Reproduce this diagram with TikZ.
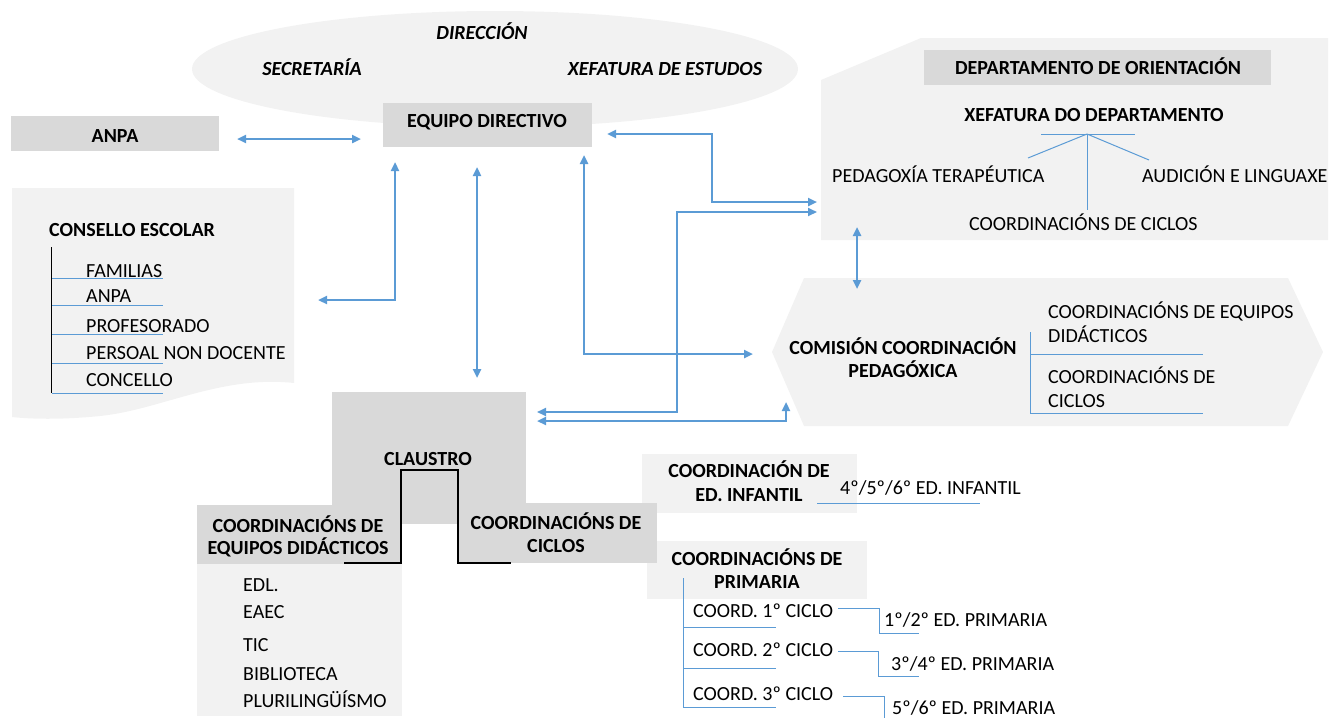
\documentclass[tikz,border=0pt]{standalone}
\usepackage{fontspec}
\setmainfont{Carlito}
\usetikzlibrary{arrows.meta,shapes.geometric}
\definecolor{panelg}{HTML}{F2F2F2}
\definecolor{boxg}{HTML}{D9D9D9}
\definecolor{ablue}{HTML}{5B9BD5}
\begin{document}
\begin{tikzpicture}[x=1pt,y=-1pt,
  txt/.style={inner sep=0pt, font=\fontsize{20}{24}\selectfont},
  btxt/.style={inner sep=0pt, font=\fontsize{20}{24}\selectfont\bfseries},
  itxt/.style={inner sep=0pt, font=\fontsize{20}{24}\selectfont\bfseries\itshape},
  darkbox/.style={fill=boxg, draw=none, inner sep=0pt, anchor=north west},
  lightbox/.style={fill=panelg, draw=none, inner sep=0pt, anchor=north west},
  conn/.style={draw=ablue, line width=2.6pt, {Triangle[length=9pt,width=8pt]}-{Triangle[length=9pt,width=8pt]}},
  thinconn/.style={conn, line width=1.8pt},
  midconn/.style={conn, line width=2.2pt},
  tree/.style={draw=ablue, line width=1pt},
  blackline/.style={draw=black, line width=1pt},
  stepline/.style={draw=black, line width=2.5pt}]
\path[use as bounding box] (0,0) rectangle (1329,718);

% ---------- ellipse (direction) ----------
\node[ellipse, fill=panelg, draw=none, minimum width=606pt, minimum height=116pt, inner sep=0pt] (dirEll) at (495,69) {};
\node[itxt, anchor=base] (direccion) at (482,39) {DIRECCIÓN};
\node[itxt, anchor=base] (secret) at (312,75) {SECRETARÍA};
\node[itxt, anchor=base] (xefest) at (665,75) {XEFATURA DE ESTUDOS};

% ---------- equipo directivo ----------
\node[darkbox, minimum width=209pt, minimum height=44pt] (equipo) at (383,103) {};
\node[btxt, anchor=base] (equipoT) at (487,127) {EQUIPO DIRECTIVO};

% ---------- ANPA ----------
\node[darkbox, minimum width=208pt, minimum height=35pt] (anpa) at (11,116) {};
\node[btxt, anchor=base] (anpaT) at (115,142) {ANPA};

% ---------- consello escolar ----------
\fill[panelg] (12,188) -- (294,188) -- (294,383)
  .. controls (220,375) and (160,410) .. (100,416)
  .. controls (60,420) and (30,419) .. (12,417) -- cycle;
\node[btxt, anchor=base west] (consello) at (49,236) {CONSELLO ESCOLAR};
\draw[blackline] (51,247) -- (51,393);
\foreach \yy in {278,305,334,363,393} { \draw[tree] (52,\yy) -- (163,\yy); }
\node[txt, anchor=base west] (ce1) at (86,277) {FAMILIAS};
\node[txt, anchor=base west] (ce2) at (86,302) {ANPA};
\node[txt, anchor=base west] (ce3) at (86,332) {PROFESORADO};
\node[txt, anchor=base west] (ce4) at (86,359) {PERSOAL NON DOCENTE};
\node[txt, anchor=base west] (ce5) at (86,386) {CONCELLO};

% ---------- departamento de orientacion ----------
\fill[panelg] (821,80) -- (921,38) -- (1328,38) -- (1328,240) -- (821,240) -- cycle;
\node[darkbox, minimum width=347pt, minimum height=35pt] (depH) at (924,50) {};
\node[btxt, anchor=base] (depHT) at (1098,74) {DEPARTAMENTO DE ORIENTACIÓN};
\node[btxt, anchor=base] (xefdep) at (1094,121) {XEFATURA DO DEPARTAMENTO};
\coordinate (apex) at (1087,134);
\draw[tree] (1041,134) -- (1135,134);
\draw[tree] (apex) -- (1028,158);
\draw[tree] (apex) -- (1149,160);
\draw[tree] (apex) -- (1087,210);
\node[txt, anchor=base west] (pedter) at (832,182) {PEDAGOXÍA TERAPÉUTICA};
\node[txt, anchor=base west] (audic) at (1142,182) {AUDICIÓN E LINGUAXE};
\node[txt, anchor=base west] (coordcic) at (969,230) {COORDINACIÓNS DE CICLOS};

% ---------- comision coordinacion pedagoxica ----------
\fill[panelg] (804,278) -- (1288,278) -- (1323,352) -- (1288,426) -- (804,426) -- (772,352) -- cycle;
\node[btxt, anchor=base] (ccp1) at (903,354) {COMISIÓN COORDINACIÓN};
\node[btxt, anchor=base] (ccp2) at (903,377) {PEDAGÓXICA};
\draw[tree] (1030,332) -- (1030,413);
\draw[tree] (1030,354) -- (1203,354);
\draw[tree] (1030,413) -- (1203,413);
\node[txt, anchor=base west] (ccr1) at (1048,318) {COORDINACIÓNS DE EQUIPOS};
\node[txt, anchor=base west] (ccr2) at (1048,342) {DIDÁCTICOS};
\node[txt, anchor=base west] (ccr3) at (1048,383) {COORDINACIÓNS DE};
\node[txt, anchor=base west] (ccr4) at (1048,407) {CICLOS};

% ---------- claustro ----------
\node[darkbox, minimum width=194pt, minimum height=132pt] (claustro) at (332,392) {};
\node[btxt, anchor=base] (claustroT) at (428,465) {CLAUSTRO};

% ---------- infantil / primaria ----------
\node[lightbox, minimum width=215pt, minimum height=59pt] (infantil) at (642,454) {};
\node[btxt, anchor=base] (inf1) at (749,477) {COORDINACIÓN DE};
\node[btxt, anchor=base] (inf2) at (749,501) {ED. INFANTIL};
\draw[tree] (817,503) -- (980,503);
\node[txt, anchor=base west] (infR) at (840,494) {4º/5º/6º ED. INFANTIL};

\node[lightbox, minimum width=220pt, minimum height=58pt] (primaria) at (647,541) {};
\node[btxt, anchor=base] (pri1) at (757,565) {COORDINACIÓNS DE};
\node[btxt, anchor=base] (pri2) at (757,588) {PRIMARIA};
\draw[tree] (683,578) -- (683,707);
\foreach \yy in {627,668,707} { \draw[tree] (683,\yy) -- (776,\yy); }
\node[txt, anchor=base west] (cc1) at (693,617) {COORD. 1º CICLO};
\node[txt, anchor=base west] (cc2) at (693,656) {COORD. 2º CICLO};
\node[txt, anchor=base west] (cc3) at (693,700) {COORD. 3º CICLO};
\draw[tree] (838,608) -- (879,608) -- (879,633) -- (919,633);
\draw[tree] (838,651) -- (878,651) -- (878,676) -- (919,676);
\draw[tree] (843,696) -- (884,696) -- (884,718);
\node[txt, anchor=base west] (ep1) at (884,626) {1º/2º ED. PRIMARIA};
\node[txt, anchor=base west] (ep2) at (891,670) {3º/4º ED. PRIMARIA};
\node[txt, anchor=base west] (ep3) at (892,714) {5º/6º ED. PRIMARIA};

% ---------- coordinacions de ciclos / equipos didacticos ----------
\node[darkbox, minimum width=200pt, minimum height=60pt] (ciclos) at (457,503) {};
\node[btxt, anchor=base] (cic1) at (556,529) {COORDINACIÓNS DE};
\node[btxt, anchor=base] (cic2) at (556,552) {CICLOS};

\node[darkbox, minimum width=205pt, minimum height=59pt] (equipos) at (197,505) {};
\node[btxt, anchor=base] (eq1) at (298,532) {COORDINACIÓNS DE};
\node[btxt, anchor=base] (eq2) at (298,554) {EQUIPOS DIDÁCTICOS};
\node[lightbox, minimum width=205pt, minimum height=152pt] (eqpanel) at (197,564) {};
\node[txt, anchor=base west] (ed1) at (243,591) {EDL.};
\node[txt, anchor=base west] (ed2) at (243,618) {EAEC};
\node[txt, anchor=base west] (ed3) at (243,651) {TIC};
\node[txt, anchor=base west] (ed4) at (243,680) {BIBLIOTECA};
\node[txt, anchor=base west] (ed5) at (243,707) {PLURILINGÜÍSMO};

\draw[stepline] (344,563) -- (401,563) -- (401,470) -- (458,470) -- (458,563) -- (511,563);

% ---------- connectors ----------
\coordinate (anpaR) at (237,139);
\coordinate (eqW) at (361,139);
\coordinate (conR) at (318,300);
\coordinate (eqS1) at (395,162);
\coordinate (eqS2) at (477,167);
\coordinate (clN) at (477,378);
\coordinate (eqS3) at (584,155);
\coordinate (comW) at (753,354);
\coordinate (eqE) at (607,134);
\coordinate (depW1) at (817,202);
\coordinate (depW2) at (817,212);
\coordinate (clE1) at (537,412);
\coordinate (clE2) at (537,421);
\coordinate (comSW) at (786,402);
\coordinate (depS) at (857,227);
\coordinate (comN) at (857,289);

\draw[conn] (anpaR) -- (eqW);
\draw[conn] (conR) -- (conR -| eqS1) -- (eqS1);
\draw[conn] (eqS2) -- (clN);
\draw[thinconn] (depW2) -- (677,212) -- (677,412) -- (clE1);
\draw[conn] (eqS3) -- (eqS3 |- comW) -- (comW);
\draw[conn] (eqE) -- (712,134) -- (712,202) -- (depW1);
\draw[midconn] (clE2) -- (clE2 -| comSW) -- (comSW);
\draw[conn] (depS) -- (comN);
\end{tikzpicture}
\end{document}
